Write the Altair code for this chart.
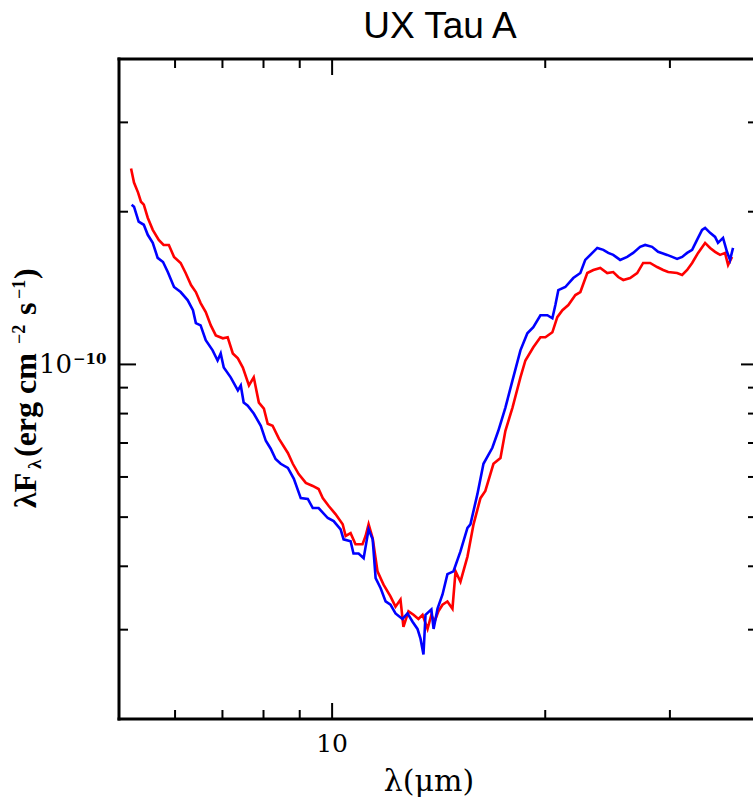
import altair as alt
import pandas as pd

# ---------------- data ----------------
# wavelength in micron, flux (lambda F_lambda) in units of 1e-11 erg cm^-2 s^-1
blue_lam = [5.21, 5.25, 5.33, 5.42, 5.49, 5.58, 5.67, 5.77, 5.86, 5.98, 6.11, 6.25, 6.36, 6.42,
            6.52, 6.63, 6.78, 6.89, 6.96, 7.03, 7.19, 7.36, 7.43, 7.50, 7.60, 7.75, 7.93, 8.06,
            8.19, 8.32, 8.46, 8.66, 8.83, 9.03, 9.24, 9.39, 9.57, 9.86, 10.05, 10.28, 10.38,
            10.62, 10.72, 10.90, 11.08, 11.26, 11.41, 11.52, 11.71, 11.90, 12.09, 12.29, 12.57,
            12.78, 12.99, 13.20, 13.33, 13.46, 13.55, 13.81, 13.91, 14.09, 14.32, 14.55, 14.84,
            15.18, 15.53, 15.68, 16.04, 16.36, 16.84, 17.17, 17.57, 17.98, 18.45, 18.87, 19.24,
            19.69, 20.14, 20.47, 20.67, 20.87, 21.35, 21.91, 22.42, 22.78, 23.31, 23.69, 24.16,
            24.55, 24.95, 25.52, 26.11, 26.62, 27.23, 27.68, 28.31, 28.87, 29.73, 30.22, 30.71,
            31.22, 31.73, 32.25, 32.77, 33.31, 33.64, 34.19, 34.75, 35.08, 35.66, 36.12, 36.48,
            36.84]
blue_flux = [20.65, 20.46, 19.11, 18.85, 18.01, 17.36, 16.22, 15.92, 15.21, 14.21, 13.89, 13.39,
             12.79, 12.06, 11.94, 11.16, 10.66, 10.18, 10.51, 9.86, 9.43, 8.89, 9.09, 8.41, 8.29,
             8.00, 7.57, 7.07, 6.82, 6.51, 6.37, 6.25, 5.95, 5.45, 5.43, 5.21, 5.21, 4.98, 4.91,
             4.73, 4.52, 4.48, 4.24, 4.24, 4.15, 4.73, 4.52, 3.79, 3.62, 3.41, 3.36, 3.23, 3.15,
             3.23, 3.11, 3.01, 2.88, 2.68, 3.21, 3.29, 3.01, 3.30, 3.52, 3.86, 3.91, 4.28, 4.76,
             4.84, 5.55, 6.37, 6.85, 7.40, 8.22, 9.30, 10.66, 11.52, 11.84, 12.50, 12.50, 12.33,
             13.09, 14.01, 14.21, 14.80, 15.14, 16.07, 16.59, 16.97, 16.82, 16.59, 16.44, 16.07,
             16.29, 16.59, 17.05, 17.20, 17.05, 16.67, 16.44, 16.29, 16.14, 16.29, 16.59, 16.82,
             17.60, 18.42, 18.59, 18.17, 17.84, 17.36, 17.76, 16.67, 16.07, 16.97]

red_lam = [5.20, 5.25, 5.32, 5.37, 5.42, 5.49, 5.58, 5.69, 5.78, 5.88, 5.98, 6.11, 6.21, 6.32,
           6.42, 6.52, 6.63, 6.74, 6.85, 7.01, 7.12, 7.24, 7.36, 7.48, 7.63, 7.75, 7.88, 8.01,
           8.11, 8.24, 8.41, 8.66, 8.80, 8.97, 9.18, 9.39, 9.57, 9.70, 9.89, 10.11, 10.35, 10.45,
           10.62, 10.79, 11.04, 11.15, 11.26, 11.41, 11.59, 11.82, 12.09, 12.29, 12.49, 12.61,
           12.82, 13.03, 13.24, 13.42, 13.64, 13.81, 13.95, 14.13, 14.32, 14.55, 14.79, 14.94,
           15.18, 15.53, 15.84, 16.20, 16.46, 16.90, 17.29, 17.57, 17.98, 18.45, 18.75, 19.24,
           19.69, 20.01, 20.47, 20.80, 21.15, 21.56, 22.06, 22.42, 22.93, 23.39, 23.92, 24.47,
           24.95, 25.36, 25.78, 26.36, 26.97, 27.50, 28.13, 28.78, 29.35, 29.83, 30.71, 31.22,
           31.73, 32.25, 32.88, 33.64, 34.19, 34.75, 35.32, 35.89, 36.25, 36.72]
red_flux = [24.33, 22.83, 21.81, 20.93, 20.65, 19.46, 18.42, 17.60, 17.20, 17.20, 16.29, 15.85,
            15.14, 14.34, 13.89, 13.21, 12.68, 11.94, 11.41, 11.26, 11.31, 10.51, 10.28, 9.86,
            9.09, 9.43, 8.41, 8.18, 7.64, 7.57, 7.14, 6.69, 6.37, 6.08, 5.84, 5.76, 5.68, 5.45,
            5.26, 5.07, 4.84, 4.59, 4.65, 4.42, 4.42, 4.59, 4.84, 4.54, 3.91, 3.68, 3.49, 3.33,
            3.44, 3.04, 3.26, 3.21, 3.15, 3.21, 3.01, 3.21, 3.11, 3.26, 3.36, 3.41, 3.30, 3.91,
            3.73, 4.18, 4.84, 5.45, 5.63, 6.37, 6.54, 7.40, 8.22, 9.43, 10.18, 10.81, 11.31,
            11.31, 11.57, 12.39, 12.79, 13.09, 13.70, 13.89, 15.14, 15.35, 15.49, 15.14, 15.21,
            14.87, 14.67, 14.80, 15.14, 15.85, 15.85, 15.56, 15.35, 15.21, 15.14, 15.01, 15.35,
            15.85, 16.59, 17.36, 16.97, 16.67, 16.44, 16.59, 15.70, 16.29]

FLUX_UNIT = 1e-11

x_domain = [5.0, 39.31]
y_domain = [2e-11, 4e-10]
x_minor_ticks = [6, 7, 8, 9, 20, 30]
x_major_ticks = [10]
y_minor_ticks = [3e-11, 4e-11, 5e-11, 6e-11, 7e-11, 8e-11, 9e-11, 2e-10, 3e-10]
y_major_ticks = [1e-10]
x_tick_labels = ["10"]
y_tick_label_base = "10"
y_tick_label_exp = "\u221210"

title_text = "UX Tau A"

# ---------------- build tables ----------------
blue_df = pd.DataFrame({"lam": blue_lam, "flux": [v * FLUX_UNIT for v in blue_flux]})
blue_df["idx"] = range(len(blue_df))
red_df = pd.DataFrame({"lam": red_lam, "flux": [v * FLUX_UNIT for v in red_flux]})
red_df["idx"] = range(len(red_df))

W, H = 634, 660
xs = alt.Scale(type="log", domain=x_domain)
ys = alt.Scale(type="log", domain=y_domain)
one = pd.DataFrame({"a": [0]})

SERIF = "DejaVu Serif"
TSERIF = "Liberation Serif"


def spectrum(df, color):
    return alt.Chart(df).mark_line(color=color, strokeWidth=2.6, clip=True).encode(
        x=alt.X("lam:Q", scale=xs, axis=None),
        y=alt.Y("flux:Q", scale=ys, axis=None),
        order="idx:Q",
    )


def xticks(vals, y0, y1):
    return alt.Chart(pd.DataFrame({"v": vals})).mark_rule(color="black", strokeWidth=2).encode(
        x=alt.X("v:Q", scale=xs), y=alt.value(y0), y2=alt.value(y1))


def yticks(vals, x0, x1):
    return alt.Chart(pd.DataFrame({"v": vals})).mark_rule(color="black", strokeWidth=2).encode(
        y=alt.Y("v:Q", scale=ys), x=alt.value(x0), x2=alt.value(x1))


def text(t, x, y, size, font=SERIF, angle=0, align="center", weight="normal"):
    return alt.Chart(one).mark_text(
        text=t, fontSize=size, font=font, angle=angle, align=align,
        baseline="alphabetic", color="black", fontWeight=weight,
    ).encode(x=alt.value(x), y=alt.value(y))


frame = [
    alt.Chart(one).mark_rule(color="black", strokeWidth=3).encode(
        x=alt.value(0), y=alt.value(-1.5), y2=alt.value(H + 1.5)),
    alt.Chart(one).mark_rule(color="black", strokeWidth=3).encode(
        x=alt.value(-1.5), x2=alt.value(W + 6), y=alt.value(0)),
    alt.Chart(one).mark_rule(color="black", strokeWidth=3).encode(
        x=alt.value(-1.5), x2=alt.value(W + 6), y=alt.value(H)),
]

ticks = [
    xticks(x_minor_ticks, H, H - 9), xticks(x_minor_ticks, 0, 9),
    xticks(x_major_ticks, H, H - 16), xticks(x_major_ticks, 0, 16),
    yticks(y_minor_ticks, 0, 9), yticks(y_minor_ticks, W + 4, W - 5),
    yticks(y_major_ticks, 0, 17), yticks(y_major_ticks, W + 4, W - 12),
]

x_label = alt.Chart(pd.DataFrame({"v": [float(s) for s in x_tick_labels], "t": x_tick_labels})).mark_text(
    fontSize=25, font=SERIF, baseline="alphabetic", color="black").encode(
    x=alt.X("v:Q", scale=xs), y=alt.value(H + 33), text="t:N")

y_label_base = alt.Chart(pd.DataFrame({"v": y_major_ticks})).mark_text(
    text=y_tick_label_base, fontSize=26, font=SERIF, baseline="alphabetic", align="right",
    color="black", dy=9).encode(y=alt.Y("v:Q", scale=ys), x=alt.value(-47))
y_label_exp = alt.Chart(pd.DataFrame({"v": y_major_ticks})).mark_text(
    text=y_tick_label_exp, fontSize=15, font=SERIF, baseline="alphabetic", align="left",
    color="black", dy=0, fontWeight="bold").encode(y=alt.Y("v:Q", scale=ys), x=alt.value(-46))

# y-axis title  lambda F_lambda (erg cm^-2 s^-1), rotated
YX = -83
B = "bold"
y_title = [
    text("\u03bbF", YX, 449, 32, font=TSERIF, angle=270, align="left", weight=B),
    text("\u03bb", YX + 5, 410, 19, font=TSERIF, angle=270, align="left", weight=B),
    text("(erg cm", YX, 398, 32, font=TSERIF, angle=270, align="left", weight=B),
    text("\u22122", YX - 11, 285, 18, font=TSERIF, angle=270, align="left", weight=B),
    text("s", YX, 256, 32, font=TSERIF, angle=270, align="left", weight=B),
    text("\u22121", YX - 11, 240, 18, font=TSERIF, angle=270, align="left", weight=B),
    text(")", YX, 220, 32, font=TSERIF, angle=270, align="left", weight=B),
]

x_title = text("\u03bb(\u03bcm)", 310, H + 72, 30)
title = text(title_text, 321, -21, 37, font="Liberation Sans")

chart = alt.layer(
    spectrum(red_df, "#ff0000"),
    spectrum(blue_df, "#0000ff"),
    *frame, *ticks, x_label, y_label_base, y_label_exp, *y_title, x_title, title,
).properties(
    width=W, height=H,
    autosize=alt.AutoSizeParams(type="none"),
    padding={"left": 119, "top": 59, "right": 0, "bottom": 83},
).configure_view(stroke=None)

chart.save("out.html", embed_options={"renderer": "svg", "actions": False})
